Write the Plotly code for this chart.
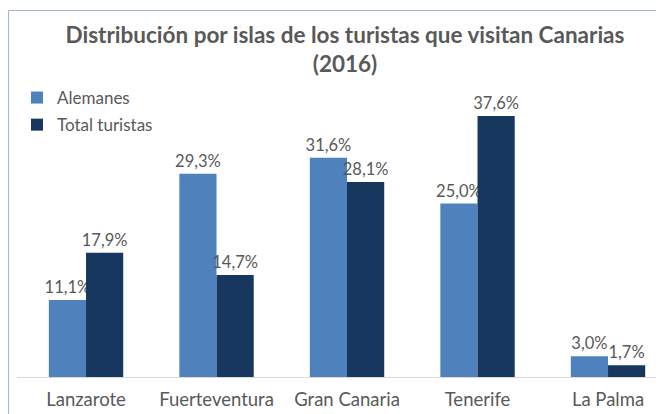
import plotly.graph_objects as go

islas = ["Lanzarote", "Fuerteventura", "Gran Canaria", "Tenerife", "La Palma"]
alemanes = [11.1, 29.3, 31.6, 25.0, 3.0]
total = [17.9, 14.7, 28.1, 37.6, 1.7]

def fmt(v):
    return f"{v:.1f}%".replace(".", ",")

# page has an 8px body margin; figure sized to fit the viewport
W, H = 656, 406
L, R, T, B = 9, 0, 72, 37
pw = W - L - R
ph = H - T - B

fig = go.Figure()
fig.add_bar(name="Alemanes", x=islas, y=alemanes, marker_color="#4F81BD",
            text=[fmt(v) for v in alemanes], textposition="outside",
            cliponaxis=False, legendgroup="a")
fig.add_bar(name="Total turistas", x=islas, y=total, marker_color="#17375E",
            text=[fmt(v) for v in total], textposition="outside",
            cliponaxis=False, legendgroup="b")

fig.update_traces(textfont=dict(family="Lato", size=16.5, color="#595959"),
                  constraintext="none", marker_line_width=0)

fig.update_layout(
    width=W, height=H,
    margin=dict(l=L, r=R, t=T, b=B, autoexpand=False),
    paper_bgcolor="white", plot_bgcolor="white",
    barmode="group", bargap=0.43, bargroupgap=0,
    font=dict(family="Lato", size=16, color="#595959"),
    title=dict(text="<b>Distribución por islas de los turistas que visitan Canarias<br>(2016)</b>",
               x=0.5137, xanchor="center", y=0.914, yanchor="middle",
               font=dict(family="Lato", size=22.5, color="#595959")),
    legend=dict(x=0.0, xanchor="left", y=1.0, yanchor="top",
                bgcolor="rgba(0,0,0,0)", font=dict(size=17, color="#595959"),
                traceorder="grouped", itemwidth=30, tracegroupgap=2),
    showlegend=True,
    xaxis=dict(range=[-0.529, 4.429], showline=True, linecolor="#D9D9D9",
               linewidth=1, ticks="", showgrid=False, ticklabelstandoff=6,
               tickfont=dict(size=18.5, color="#595959")),
    yaxis=dict(range=[0, 297 / 6.94], visible=False, showgrid=False,
               zeroline=False),
)

def px2paper_x(px):
    return (px - L) / pw

def px2paper_y(py):
    return (H - B - py) / ph

fig.add_shape(type="rect", xref="paper", yref="paper",
              x0=px2paper_x(0.5), x1=px2paper_x(700),
              y0=px2paper_y(430), y1=px2paper_y(2.5),
              line=dict(color="#9FB6D6", width=1), fillcolor="rgba(0,0,0,0)",
              layer="below")

fig.write_html("out.html")
